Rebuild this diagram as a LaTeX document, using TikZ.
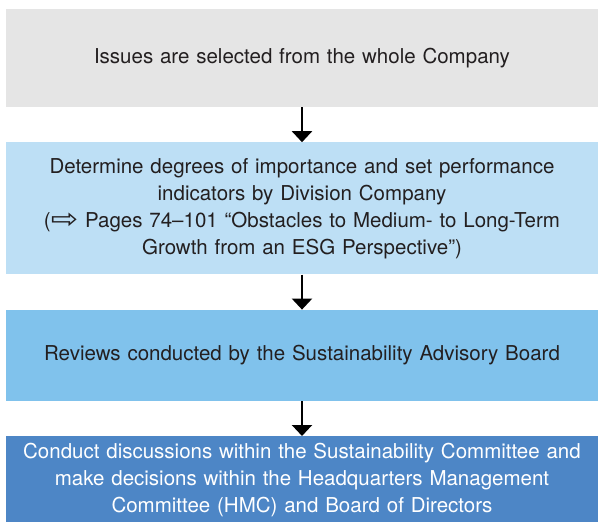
\documentclass[tikz,border=0pt]{standalone}
\usepackage{fontspec}
\usepackage{graphicx}
\setmainfont{TeX Gyre Heros}
\newfontfamily\symfont{DejaVu Sans}
\usetikzlibrary{positioning,arrows.meta}
\definecolor{issuegray}{HTML}{E5E5E5}
\definecolor{paleblue}{HTML}{BDDFF5}
\definecolor{midblue}{HTML}{80C2EC}
\definecolor{deepblue}{HTML}{4D86C6}
\definecolor{inkgray}{HTML}{231F20}
\tikzset{
  stage/.style={rectangle, align=center, text width=575pt, minimum width=592pt,
    inner xsep=8.5pt, inner ysep=0pt, text=inkgray, font=\fontsize{20.5}{27}\selectfont},
  flow/.style={-{Triangle[width=20pt,length=11pt]}, line width=2.2pt},
}
\begin{document}
\begin{tikzpicture}[x=1pt, y=-1pt, node distance=35pt]
		\useasboundingbox (0,0) rectangle (598,522);
		% Define nodes
		\node[stage, fill=issuegray, minimum height=98pt] (issues) at (302,58)
		{Issues are selected from the whole Company}; \node[stage, fill=paleblue,
		minimum height=132pt, below=of issues] (determine) {Determine degrees of
		importance and set performance\\ indicators by Division Company\\
		({\symfont\raisebox{-1pt}{\scalebox{1.6}[1.35]{⇨}}} Pages 74–101 “Obstacles to Medium- to Long-Term\\
		Growth from an ESG Perspective”)}; \node[stage, fill=midblue, minimum
		height=91pt, below=of determine] (reviews) {Reviews conducted by the
		Sustainability Advisory Board}; \node[stage, fill=deepblue, text=white,
		minimum height=88pt, below=of reviews] (decide) {Conduct discussions within
		the Sustainability Committee and\\ make decisions within the Headquarters
		Management\\ Committee (HMC) and Board of Directors};
		
		% Draw edges
		\draw[flow] (issues) -- (determine); \draw[flow] (determine) -- (reviews);
		\draw[flow] (reviews) -- (decide);
	\end{tikzpicture}
\end{document}
